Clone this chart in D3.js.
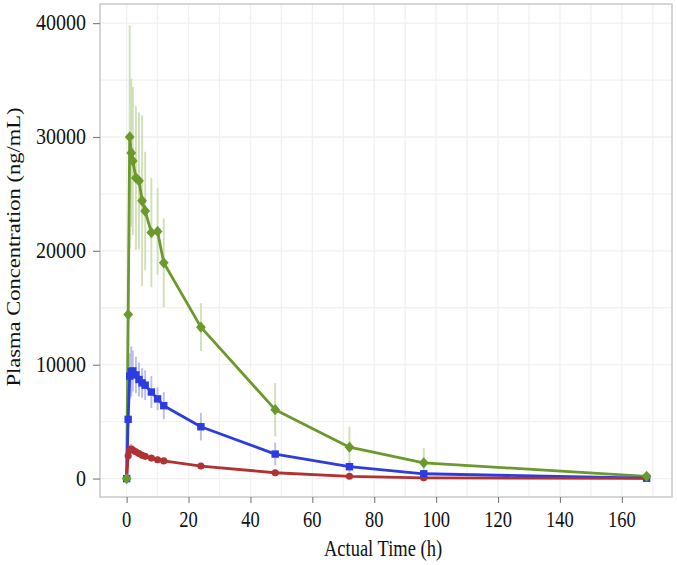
<!DOCTYPE html>
<html><head><meta charset="utf-8">
<script src="https://cdn.jsdelivr.net/npm/d3@7"></script>
<style>body{margin:0;background:#fff}svg{display:block}</style>
</head><body>
<svg id="c" width="677" height="565"></svg>
<script>
const times = [0, 0.5, 1, 1.5, 2, 3, 4, 5, 6, 8, 10, 12, 24, 48, 72, 96, 168];
const greenMean = [0, 14400, 30000, 28600, 27900, 26400, 26150, 24400, 23500, 21600, 21700, 18950, 13300, 6050, 2760, 1380, 200];
const greenSD   = [0, 3000, 9800, 6500, 6500, 6300, 6000, 7500, 5200, 4800, 3800, 3900, 2100, 2350, 1800, 1300, 150];
const blueMean  = [0, 5200, 9000, 9400, 9450, 9100, 8700, 8400, 8200, 7600, 7000, 6400, 4550, 2150, 1040, 420, 30];
const blueSD    = [0, 800, 2000, 2200, 1800, 1600, 1500, 1300, 1300, 1400, 1000, 1200, 1200, 1000, 500, 300, 40];
const redMean   = [0, 2000, 2500, 2600, 2500, 2350, 2200, 2050, 1950, 1800, 1650, 1550, 1100, 510, 200, 60, 10];
const redSD     = [0, 300, 500, 450, 400, 350, 300, 300, 250, 250, 200, 200, 150, 100, 60, 40, 10];
const xTicks = [0, 20, 40, 60, 80, 100, 120, 140, 160];
const yTicks = [0, 10000, 20000, 30000, 40000];
const xTitle = "Actual Time (h)";
const yTitle = "Plasma Concentration (ng/mL)";

const P = {l:100, r:672, t:4, b:497};
const x = d3.scaleLinear().domain([-8.6, 176.2]).range([P.l, P.r]);
const y = d3.scaleLinear().domain([-1620, 41680]).range([P.b, P.t]);
const svg = d3.select("#c");
const font = "'Liberation Serif', 'Times New Roman', serif";
const STR = 1.2; // vertical stretch of text in the reference

// grid
const g = svg.append("g");
const xMinor = d3.range(10, 176, 20), yMinor = d3.range(5000, 41000, 10000);
g.selectAll(".gx").data(xTicks.concat(xMinor)).join("line")
  .attr("x1", d=>x(d)).attr("x2", d=>x(d)).attr("y1", P.t).attr("y2", P.b)
  .attr("stroke", "#f1f1f1").attr("stroke-width", 1.3);
g.selectAll(".gy").data(yTicks.concat(yMinor)).join("line")
  .attr("y1", d=>y(d)).attr("y2", d=>y(d)).attr("x1", P.l).attr("x2", P.r)
  .attr("stroke", "#f1f1f1").attr("stroke-width", 1.3);

const diamond = {draw(ctx, size){ const r = Math.sqrt(size/2); ctx.moveTo(0,-r*1.15); ctx.lineTo(r,0); ctx.lineTo(0,r*1.15); ctx.lineTo(-r,0); ctx.closePath(); }};
const series = [
  {mean: greenMean, sd: greenSD, color: "#6a9a2b", err: "#c8dbab", shape: diamond, size: 48},
  {mean: blueMean, sd: blueSD, color: "#2d3ce0", err: "#aeb2f2", shape: d3.symbolSquare, size: 55},
  {mean: redMean, sd: redSD, color: "#b03232", err: "#e3a7a7", shape: d3.symbolCircle, size: 40}
];

// error bars
series.forEach(s => {
  svg.append("g").selectAll("line").data(times).join("line")
    .attr("x1", d=>x(d)).attr("x2", d=>x(d))
    .attr("y1", (d,i)=>y(s.mean[i]-s.sd[i])).attr("y2", (d,i)=>y(s.mean[i]+s.sd[i]))
    .attr("stroke", s.err).attr("stroke-width", 1.9).attr("opacity", 0.85);
});
// lines
const line = d3.line().x(d=>x(d[0])).y(d=>y(d[1]));
series.forEach(s => {
  svg.append("path").datum(times.map((t,i)=>[t, s.mean[i]]))
    .attr("d", line).attr("fill", "none").attr("stroke", s.color).attr("stroke-width", 2.8)
    .attr("stroke-linejoin", "round");
});
// points
series.slice().reverse().forEach(s => {
  svg.append("g").selectAll("path").data(times).join("path")
    .attr("transform", (d,i)=>`translate(${x(d)},${y(s.mean[i])})`)
    .attr("d", d3.symbol().type(s.shape).size(s.size)).attr("fill", s.color);
});

// panel border
svg.append("rect").attr("x", P.l).attr("y", P.t).attr("width", P.r-P.l).attr("height", P.b-P.t)
  .attr("fill", "none").attr("stroke", "#c9c9c9").attr("stroke-width", 1.5);

// axes (tick marks)
const xa = svg.append("g").attr("transform", `translate(0,${P.b})`)
  .call(d3.axisBottom(x).tickValues(xTicks).tickSize(6).tickFormat(""));
const ya = svg.append("g").attr("transform", `translate(${P.l},0)`)
  .call(d3.axisLeft(y).tickValues(yTicks).tickSize(7).tickFormat(""));
[xa, ya].forEach(a => {
  a.select(".domain").remove();
  a.selectAll(".tick line").attr("stroke", "#7a7a7a").attr("stroke-width", 1.1);
});
// tick labels (vertically stretched like the reference)
svg.append("g").selectAll("text").data(xTicks).join("text")
  .attr("transform", d=>`translate(${x(d)},527) scale(1,${STR})`).attr("text-anchor", "middle")
  .attr("font-family", font).attr("font-size", 18.5).attr("fill", "#111").text(d=>d3.format("d")(d));
svg.append("g").selectAll("text").data(yTicks).join("text")
  .attr("transform", d=>`translate(86,${y(d)+7}) scale(1,${STR})`).attr("text-anchor", "end")
  .attr("font-family", font).attr("font-size", 20).attr("fill", "#111").text(d=>d3.format("d")(d));

svg.append("text").attr("transform", `translate(${(P.l+P.r)/2 - 3},556) scale(1,${STR})`).attr("text-anchor", "middle")
  .attr("font-family", font).attr("font-size", 18.5).attr("fill", "#111").text(xTitle);
svg.append("text").attr("transform", `translate(20,247) rotate(-90) scale(${STR},1)`).attr("text-anchor", "middle")
  .attr("font-family", font).attr("font-size", 18.8).attr("fill", "#111").text(yTitle);
</script>
</body></html>
